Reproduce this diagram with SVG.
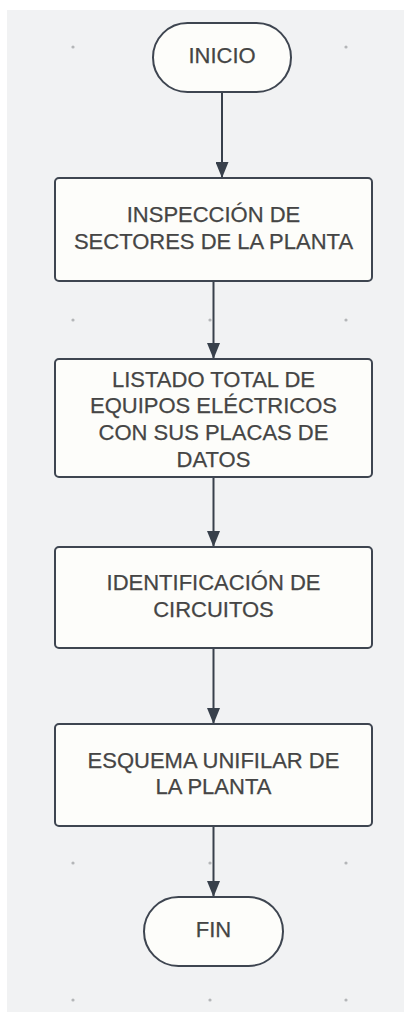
<svg xmlns="http://www.w3.org/2000/svg" width="404" height="1012" viewBox="0 0 404 1012">
<defs>
<style>
.bg{fill:#f1f2f3}
.dot{fill:#b4b6b8}
.node{fill:#fdfdfa;stroke:#3e4550;stroke-width:2}
.lbl{font-family:"Liberation Sans",Arial,sans-serif;font-size:22px;fill:#454545;text-anchor:middle;stroke:#454545;stroke-width:0.25}
.edge{stroke:#38404b;stroke-width:2;fill:none}
</style>
<marker id="arr" viewBox="0 0 16 13" refX="16" refY="6.5" markerWidth="16" markerHeight="13" markerUnits="userSpaceOnUse" orient="auto">
<path d="M0,0 L16,6.5 L0,13 Z" fill="#38404b"/>
</marker>
</defs>
<rect x="0" y="0" width="404" height="1012" fill="#ffffff"/>
<rect class="bg" x="7" y="10" width="397" height="1002"/>
<g id="grid">
<circle class="dot" cx="73" cy="47" r="1.6"/>
<circle class="dot" cx="346" cy="47" r="1.6"/>
<circle class="dot" cx="73" cy="320" r="1.6"/>
<circle class="dot" cx="210" cy="320" r="1.6"/>
<circle class="dot" cx="346" cy="320" r="1.6"/>
<circle class="dot" cx="73" cy="863" r="1.6"/>
<circle class="dot" cx="210" cy="863" r="1.6"/>
<circle class="dot" cx="346" cy="863" r="1.6"/>
<circle class="dot" cx="73" cy="1000" r="1.6"/>
<circle class="dot" cx="210" cy="1000" r="1.6"/>
<circle class="dot" cx="346" cy="1000" r="1.6"/>
</g>
<g id="connectors">
<line class="edge" x1="222" y1="92" x2="222" y2="178" marker-end="url(#arr)"/>
<line class="edge" x1="213.5" y1="281" x2="213.5" y2="359" marker-end="url(#arr)"/>
<line class="edge" x1="213.5" y1="477" x2="213.5" y2="547" marker-end="url(#arr)"/>
<line class="edge" x1="213.5" y1="648" x2="213.5" y2="724" marker-end="url(#arr)"/>
<line class="edge" x1="213.5" y1="826" x2="213.5" y2="897" marker-end="url(#arr)"/>
</g>
<g id="inicio">
<rect class="node" x="153" y="23" width="138" height="69" rx="34.5"/>
<text class="lbl" x="222" y="62.7">INICIO</text>
</g>
<g id="inspeccion">
<rect class="node" x="55" y="178" width="317" height="103" rx="4"/>
<text class="lbl" x="213.5" y="222.3">INSPECCIÓN DE</text>
<text class="lbl" x="213.5" y="249">SECTORES DE LA PLANTA</text>
</g>
<g id="listado">
<rect class="node" x="55" y="359" width="317" height="118" rx="4"/>
<text class="lbl" x="213.5" y="386.7">LISTADO TOTAL DE</text>
<text class="lbl" x="213.5" y="413.3">EQUIPOS ELÉCTRICOS</text>
<text class="lbl" x="213.5" y="440">CON SUS PLACAS DE</text>
<text class="lbl" x="213.5" y="466.7">DATOS</text>
</g>
<g id="identificacion">
<rect class="node" x="55" y="547" width="317" height="101" rx="4"/>
<text class="lbl" x="213.5" y="590">IDENTIFICACIÓN DE</text>
<text class="lbl" x="213.5" y="616.7">CIRCUITOS</text>
</g>
<g id="esquema">
<rect class="node" x="55" y="724" width="317" height="102" rx="4"/>
<text class="lbl" x="213.5" y="768.3">ESQUEMA UNIFILAR DE</text>
<text class="lbl" x="213.5" y="794">LA PLANTA</text>
</g>
<g id="fin">
<rect class="node" x="144" y="897" width="139" height="69" rx="34.5"/>
<text class="lbl" x="213.5" y="936.7">FIN</text>
</g>
</svg>
